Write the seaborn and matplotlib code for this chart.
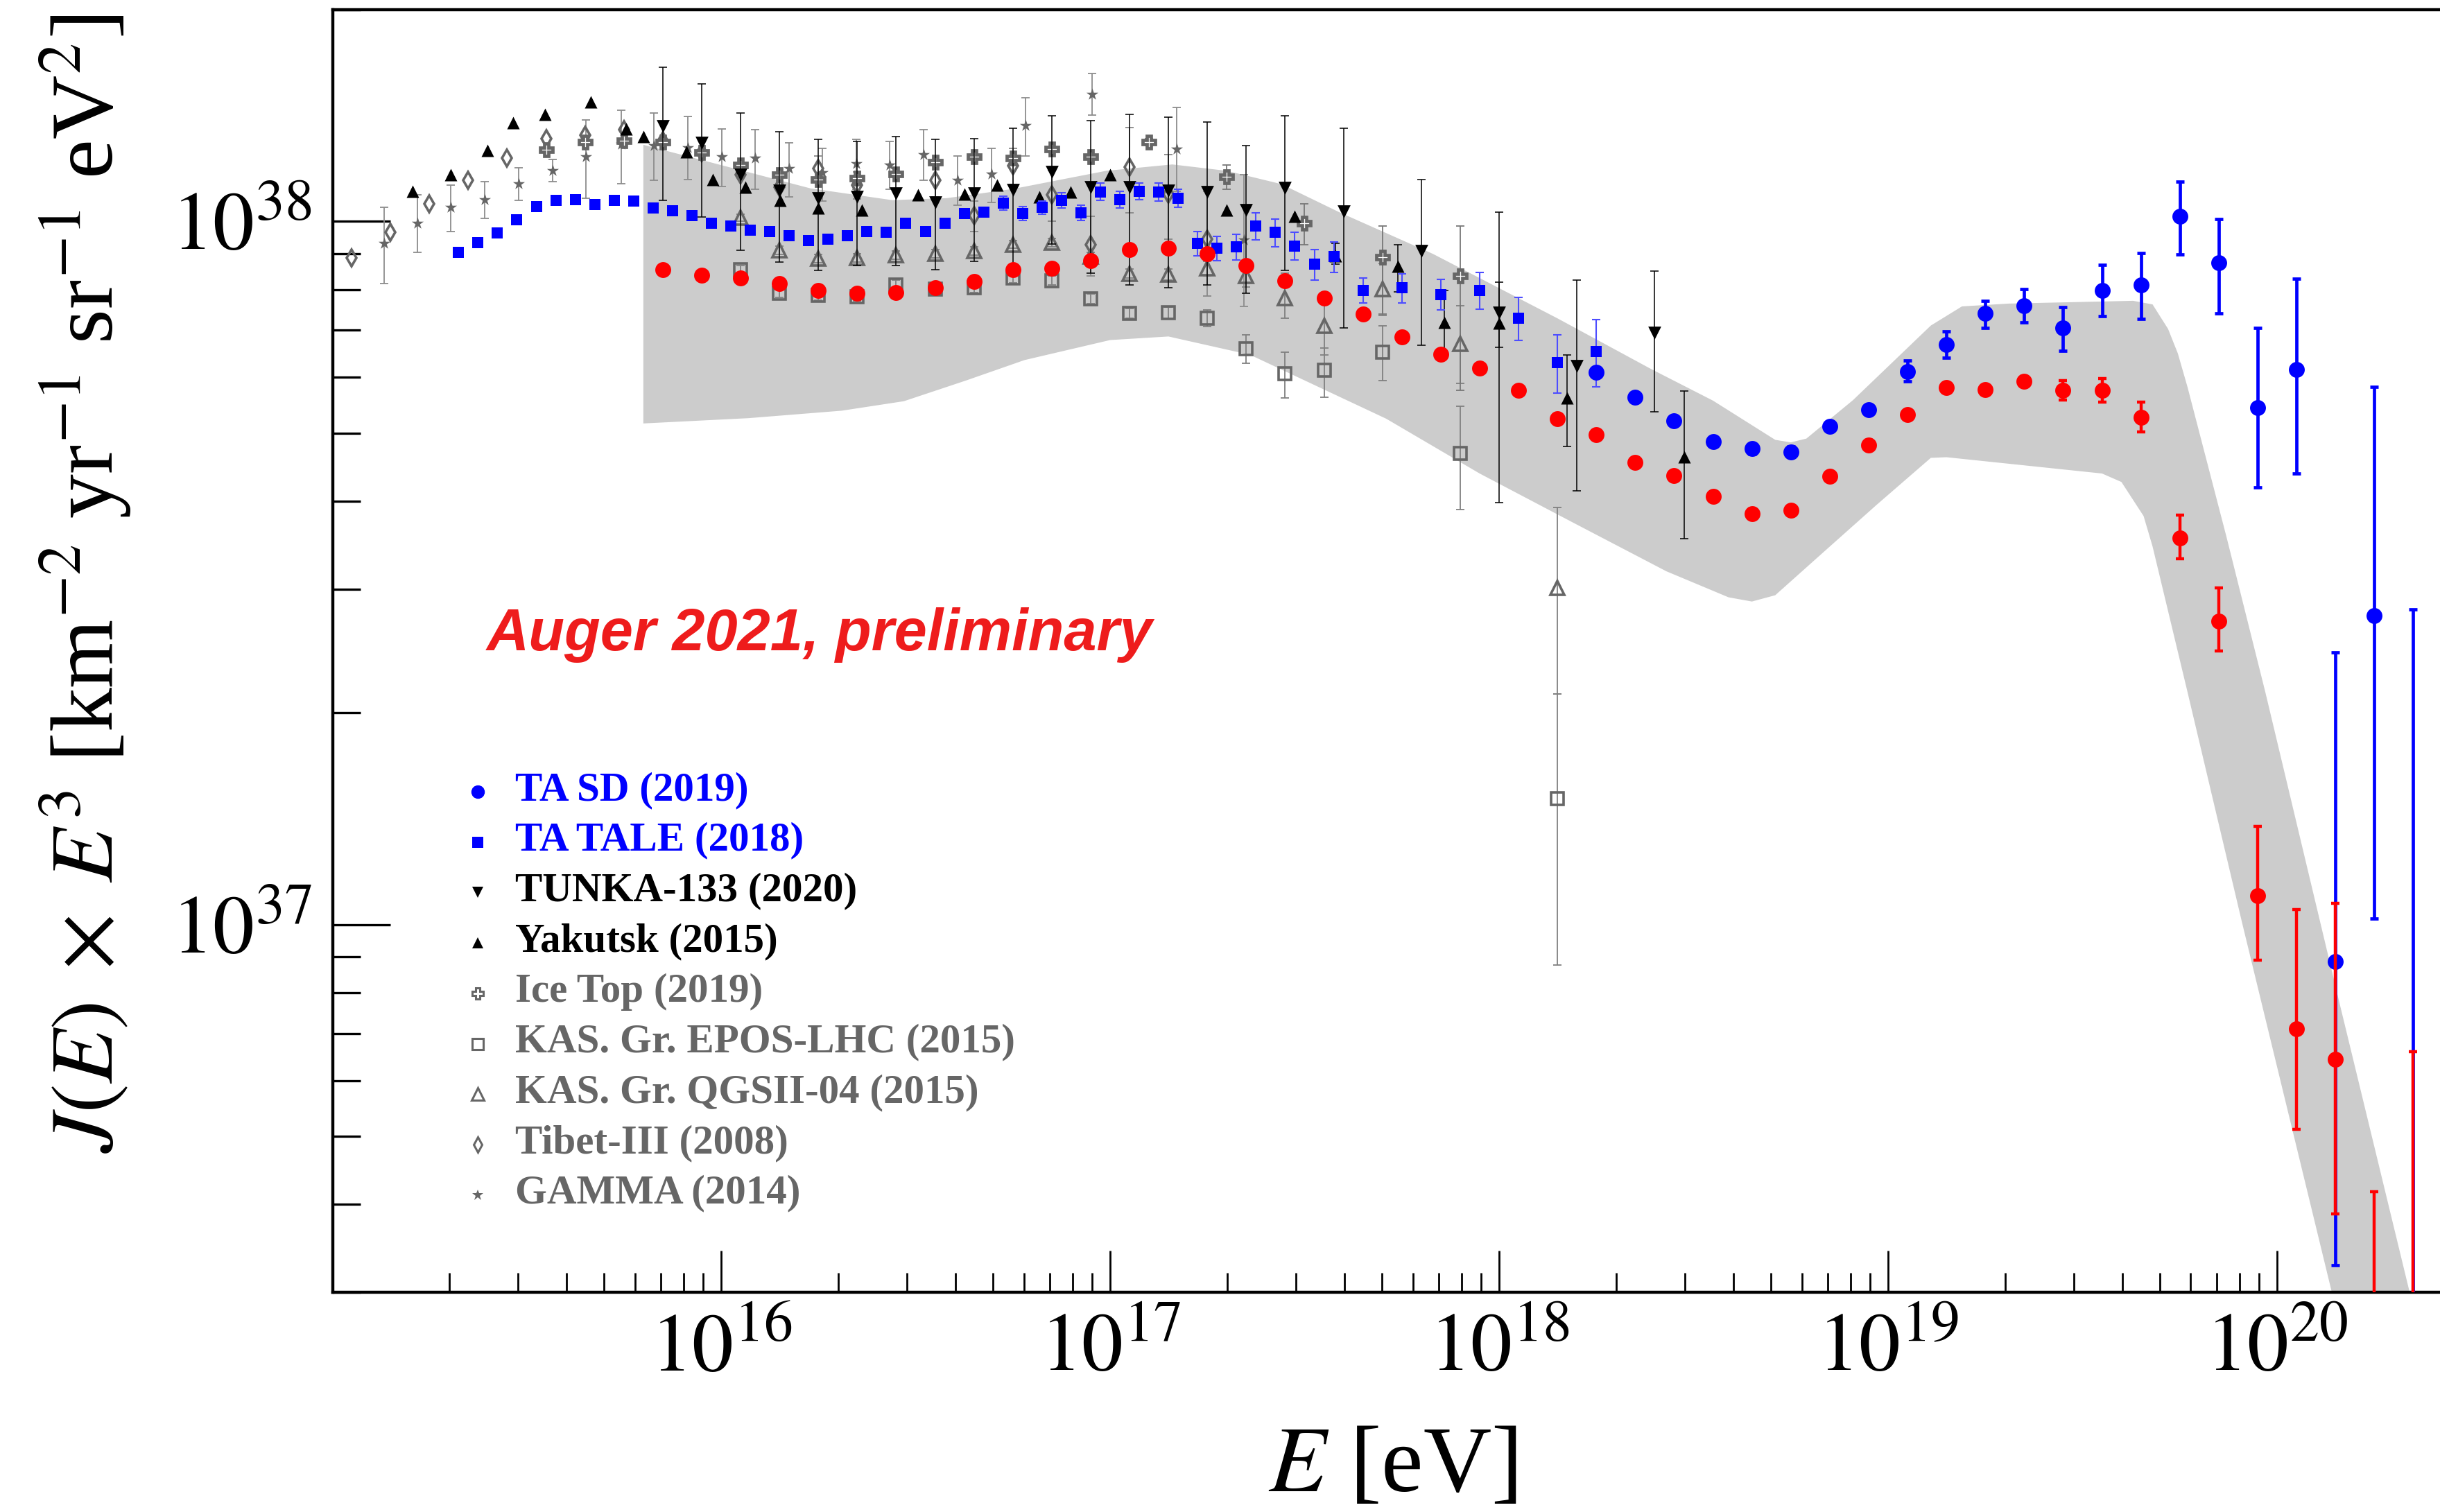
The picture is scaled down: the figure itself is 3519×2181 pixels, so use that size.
import numpy as np
import matplotlib
matplotlib.use("Agg")
import matplotlib.pyplot as plt
import seaborn as sns
from matplotlib.lines import Line2D
from matplotlib.ticker import LogLocator, FuncFormatter, NullFormatter

# energies as log10(E/eV), fluxes J(E)*E^3 in units of 1e37 km^-2 yr^-1 sr^-1 eV^2
auger_lge = [15.85, 15.95, 16.05, 16.15, 16.25, 16.35, 16.45, 16.55, 16.65, 16.75, 16.85, 16.95,
             17.05, 17.15, 17.25, 17.35, 17.45, 17.55, 17.65, 17.75, 17.85, 17.95, 18.05, 18.15,
             18.25, 18.35, 18.45, 18.55, 18.65, 18.75, 18.85, 18.95, 19.05, 19.15, 19.25, 19.35,
             19.45, 19.55, 19.65, 19.75, 19.85, 19.95, 20.05, 20.15, 20.25, 20.35]
auger_flux = [8.53, 8.39, 8.30, 8.15, 7.98, 7.91, 7.93, 8.05, 8.22, 8.53, 8.57, 8.79,
              9.12, 9.16, 8.99, 8.65, 8.24, 7.78, 7.38, 6.85, 6.47, 6.18, 5.75, 5.24,
              4.97, 4.54, 4.35, 4.06, 3.84, 3.88, 4.34, 4.81, 5.31, 5.81, 5.77, 5.93,
              5.75, 5.75, 5.26, 3.55, 2.70, 1.10, 0.711, 0.643, 0.22, 0.25]
auger_dn = [0, 0, 0, 0, 0, 0, 0, 0, 0, 0, 0, 0, 0, 0, 0, 0, 0, 0, 0, 0, 0, 0,
            0.07, 0.06, 0.06, 0.06, 0.06, 0.06, 0.06, 0.06, 0.06, 0.07, 0.07, 0.08, 0.08, 0.09,
            0.18, 0.22, 0.24, 0.24, 0.25, 0.21, 0.20, 0.255, 0.20, 0.23]
auger_up = [0, 0, 0, 0, 0, 0, 0, 0, 0, 0, 0, 0, 0, 0, 0, 0, 0, 0, 0, 0, 0, 0,
            0.07, 0.06, 0.06, 0.06, 0.06, 0.06, 0.06, 0.06, 0.06, 0.07, 0.07, 0.08, 0.08, 0.09,
            0.19, 0.23, 0.27, 0.27, 0.31, 0.28, 0.34, 0.43, 0.197, 0.41]

tasd_lge = [18.25, 18.35, 18.45, 18.55, 18.65, 18.75, 18.85, 18.95, 19.05, 19.15, 19.25,
            19.35, 19.45, 19.55, 19.65, 19.75, 19.85, 19.95, 20.05, 20.15, 20.25, 20.35]
tasd_flux = [6.10, 5.62, 5.20, 4.86, 4.75, 4.70, 5.11, 5.40, 6.12, 6.68, 7.40,
             7.59, 7.05, 7.98, 8.13, 10.16, 8.73, 5.43, 6.15, 0.885, 2.75, 0.20]
tasd_dn = [0.10, 0.08, 0.08, 0.08, 0.08, 0.08, 0.08, 0.08, 0.20, 0.28, 0.34,
           0.41, 0.50, 0.65, 0.87, 1.18, 1.33, 1.24, 1.77, 0.557, 1.73, 0.10]
tasd_up = [0.10, 0.08, 0.08, 0.08, 0.08, 0.08, 0.08, 0.08, 0.22, 0.29, 0.31,
           0.43, 0.50, 0.69, 0.89, 1.22, 1.34, 1.63, 2.13, 1.555, 3.07, 2.61]

tale_lge = [15.325, 15.375, 15.425, 15.475, 15.525, 15.575, 15.625, 15.675, 15.725, 15.775,
            15.825, 15.875, 15.925, 15.975, 16.025, 16.075, 16.125, 16.175, 16.225, 16.275,
            16.325, 16.375, 16.425, 16.475, 16.525, 16.575, 16.625, 16.675, 16.725, 16.775,
            16.825, 16.875, 16.925, 16.975, 17.025, 17.075, 17.125, 17.175, 17.225, 17.275,
            17.325, 17.375, 17.425, 17.475, 17.525, 17.575, 17.65, 17.75, 17.85, 17.95,
            18.05, 18.15, 18.25]
tale_flux = [9.04, 9.33, 9.62, 10.05, 10.50, 10.72, 10.74, 10.57, 10.72, 10.69,
             10.45, 10.35, 10.19, 9.95, 9.86, 9.71, 9.68, 9.55, 9.40, 9.44,
             9.55, 9.68, 9.66, 9.93, 9.68, 9.93, 10.26, 10.30, 10.62, 10.26,
             10.47, 10.72, 10.28, 11.02, 10.74, 11.04, 11.02, 10.79, 9.31, 9.16,
             9.20, 9.84, 9.64, 9.23, 8.69, 8.91, 7.98, 8.04, 7.87, 7.98,
             7.28, 6.30, 6.53]
tale_rel = [0, 0, 0, 0, 0, 0, 0, 0, 0, 0, 0, 0, 0, 0, 0, 0, 0, 0, 0, 0, 0, 0, 0, 0, 0, 0, 0, 0,
            0.022, 0.022, 0.022, 0.025, 0.025, 0.028, 0.028, 0.028, 0.03, 0.03, 0.04, 0.04,
            0.042, 0.044, 0.046, 0.046, 0.05, 0.05, 0.04, 0.047, 0.05, 0.06, 0.07, 0.095, 0.11]

tunka_lge = [15.85, 15.95, 16.05, 16.15, 16.25, 16.35, 16.45, 16.55, 16.65, 16.75, 16.85,
             16.95, 17.05, 17.15, 17.25, 17.35, 17.45, 17.6, 17.8, 18.0, 18.2, 18.4]
tunka_flux = [13.65, 12.94, 11.64, 11.07, 10.79, 10.84, 10.96, 10.64, 10.96, 11.09, 11.75,
              11.19, 11.19, 11.07, 11.02, 10.38, 11.17, 10.33, 9.08, 7.41, 6.22, 6.95]
tunka_lo = [10.72, 10.14, 9.10, 8.75, 8.51, 8.65, 8.65, 8.53, 8.77, 8.47, 9.29,
            8.45, 8.13, 8.05, 8.13, 7.91, 8.51, 7.05, 6.67, 6.62, 4.14, 5.36]
tunka_hi = [16.56, 15.67, 14.26, 13.40, 13.09, 13.00, 13.21, 13.09, 13.12, 13.58, 14.13,
            13.90, 14.19, 14.06, 13.84, 12.82, 14.13, 13.58, 11.46, 10.30, 8.26, 8.49]

yak_lge = [15.207, 15.304, 15.400, 15.465, 15.547, 15.665, 15.756, 15.801, 15.911, 15.979,
           16.062, 16.151, 16.25, 16.361, 16.506, 16.626, 16.709, 16.819, 16.899, 17.000,
           17.30, 17.475, 17.58, 17.74, 17.86, 18.0, 18.175, 18.476]
yak_flux = [11.04, 11.64, 12.62, 13.80, 14.19, 14.79, 13.52, 13.21, 12.56, 11.46,
            11.19, 10.72, 10.45, 10.38, 10.91, 10.94, 11.27, 10.84, 11.02, 11.64,
            10.38, 10.16, 8.93, 8.63, 7.18, 7.16, 5.61, 4.63]
yak_dn = [0, 0, 0, 0, 0, 0, 0, 0, 0, 0, 0, 0, 0, 0, 0, 0, 0, 0, 0, 0, 0, 0,
          0.24, 0.69, 0.75, 3.18, 0.83, 1.09]
yak_up = [0, 0, 0, 0, 0, 0, 0, 0, 0, 0, 0, 0, 0, 0, 0, 0, 0, 0, 0, 0, 0, 0,
          0.38, 0.64, 0.80, 1.04, 0.85, 1.11]

icetop_lge = [15.55, 15.65, 15.75, 15.85, 15.95, 16.05, 16.15, 16.25, 16.35, 16.45,
              16.55, 16.65, 16.75, 16.85, 16.95, 17.1, 17.3, 17.5, 17.7, 17.9]
icetop_flux = [12.65, 12.97, 13.03, 12.97, 12.53, 12.02, 11.64, 11.48, 11.51, 11.69,
               12.13, 12.36, 12.30, 12.68, 12.36, 12.97, 11.56, 9.93, 8.89, 8.36]
icetop_dn = [0, 0, 0, 0, 0, 0, 0, 0, 0, 0, 0, 0, 0, 0, 0, 0.15, 0.44, 0.66, 1.51, 2.61]
icetop_up = [0, 0, 0, 0, 0, 0, 0, 0, 0, 0, 0, 0, 0, 0, 0, 0.15, 0.46, 0.66, 0.97, 1.50]

kas_lge = [16.05, 16.15, 16.25, 16.35, 16.45, 16.55, 16.65, 16.75, 16.85, 16.95,
           17.05, 17.15, 17.25, 17.35, 17.45, 17.55, 17.70, 17.90, 18.15]
kas_epos_flux = [8.53, 7.91, 7.85, 7.82, 8.13, 8.02, 8.05, 8.30, 8.24, 7.76,
                 7.40, 7.41, 7.28, 6.59, 6.07, 6.14, 6.52, 4.68, 1.51]
kas_epos_dn = [0.12, 0.12, 0.12, 0.12, 0.12, 0.12, 0.12, 0.12, 0.12, 0.12,
               0.12, 0.15, 0.20, 0.30, 0.46, 0.52, 0.58, 0.79, 0.635]
kas_epos_up = [0.12, 0.12, 0.12, 0.12, 0.12, 0.12, 0.12, 0.12, 0.12, 0.12,
               0.12, 0.15, 0.20, 0.30, 0.45, 0.47, 0.58, 0.78, 0.62]
kas_qgs_flux = [10.12, 9.10, 8.85, 8.87, 8.95, 8.99, 9.08, 9.27, 9.33, 8.91,
                8.43, 8.41, 8.57, 8.36, 7.78, 7.10, 8.02, 6.70, 3.01]
kas_qgs_dn = [0.12, 0.12, 0.12, 0.12, 0.12, 0.12, 0.12, 0.12, 0.12, 0.12,
              0.12, 0.15, 0.20, 0.30, 0.49, 0.64, 0.67, 0.81, 0.88]
kas_qgs_up = [0.12, 0.12, 0.12, 0.12, 0.12, 0.12, 0.12, 0.12, 0.12, 0.12,
              0.12, 0.15, 0.20, 0.30, 0.67, 0.66, 0.69, 0.89, 0.91]

tibet_lge = [15.05, 15.15, 15.25, 15.35, 15.45, 15.55, 15.65, 15.75, 15.85, 15.95, 16.05,
             16.15, 16.25, 16.35, 16.55, 16.65, 16.75, 16.85, 16.95, 17.05, 17.15, 17.25]
tibet_flux = [8.87, 9.66, 10.59, 11.43, 12.30, 13.12, 13.27, 13.49, 13.03, 12.53, 11.64,
              11.19, 11.89, 11.27, 11.43, 10.18, 11.99, 10.91, 9.27, 11.94, 10.94, 9.44]
tibet_err = [0, 0, 0, 0, 0, 0, 0, 0, 0, 0, 0, 0,
             0.5, 0.5, 0.6, 0.5, 0.7, 0.9, 0.9, 1.65, 1.5, 1.6]

gamma_lge = [15.133, 15.220, 15.305, 15.393, 15.479, 15.567, 15.652, 15.744, 15.827, 15.915,
             16.001, 16.088, 16.175, 16.26, 16.347, 16.433, 16.521, 16.607, 16.695, 16.782,
             16.954, 17.171, 17.344]
gamma_flux = [9.31, 9.95, 10.47, 10.74, 11.32, 11.80, 12.36, 12.88, 12.82, 12.74,
              12.36, 12.30, 11.89, 11.72, 12.08, 12.02, 12.45, 11.43, 11.67, 13.68,
              15.17, 12.68, 9.42]
gamma_lo = [8.15, 9.04, 9.68, 10.09, 10.72, 11.38, 10.79, 11.30, 11.43, 11.48,
            11.22, 11.12, 10.84, 10.69, 11.12, 11.12, 11.43, 10.54, 10.64, 12.39,
            14.16, 11.04, 7.57]
gamma_hi = [10.47, 10.91, 11.27, 11.40, 11.91, 12.25, 13.93, 14.39, 14.26, 14.09,
            13.52, 13.49, 12.94, 12.71, 13.09, 13.00, 13.49, 12.39, 12.71, 15.00,
            16.22, 14.52, 11.64]

# Auger systematic band (upper and lower edge)
band_up_lge = [15.80, 16.23, 16.44, 16.58, 16.75, 16.99, 17.16, 17.30, 17.44, 17.59, 17.83,
               18.15, 18.39, 18.55, 18.71, 18.75, 18.79, 18.91, 19.11, 19.19, 19.31, 19.63,
               19.68, 19.72, 19.745, 19.77, 19.87, 19.97, 20.16, 20.40]
band_up = [12.85, 11.14, 10.72, 10.79, 11.12, 11.80, 12.05, 11.80, 11.30, 10.30, 8.99,
           7.28, 6.17, 5.56, 4.89, 4.85, 4.91, 5.57, 7.11, 7.57, 7.64, 7.71,
           7.62, 7.03, 6.49, 5.81, 3.56, 2.14, 0.776, 0.22]
band_lo_lge = [15.80, 16.07, 16.31, 16.47, 16.63, 16.78, 17.00, 17.15, 17.36, 17.71, 17.95,
               18.19, 18.43, 18.59, 18.65, 18.71, 18.83, 18.97, 19.11, 19.15, 19.55, 19.60,
               19.657, 19.68, 19.77, 19.91, 20.20]
band_lo = [5.16, 5.25, 5.38, 5.55, 5.94, 6.35, 6.78, 6.86, 6.46, 5.24, 4.38,
           3.73, 3.18, 2.92, 2.88, 2.94, 3.37, 3.95, 4.61, 4.62, 4.38, 4.26,
           3.81, 3.45, 2.14, 1.007, 0.22]

legend_labels = ["TA SD (2019)", "TA TALE (2018)", "TUNKA-133 (2020)", "Yakutsk (2015)",
                 "Ice Top (2019)", "KAS. Gr. EPOS-LHC (2015)", "KAS. Gr. QGSII-04 (2015)",
                 "Tibet-III (2008)", "GAMMA (2014)"]

UNIT = 1e37
GREY = "#666666"
BLUE = "#0000ff"
RED = "#ff0000"

sns.set_theme(style="ticks")
plt.rcParams["font.family"] = ["Liberation Serif", "DejaVu Serif"]
plt.rcParams["mathtext.fontset"] = "stix"
plt.rcParams["axes.edgecolor"] = "black"
plt.rcParams["xtick.color"] = "black"
plt.rcParams["ytick.color"] = "black"
plt.rcParams["text.color"] = "black"
plt.rcParams["axes.labelcolor"] = "black"

W, H = 3519, 2181
fig = plt.figure(figsize=(W / 100, H / 100), dpi=100)
ax = fig.add_axes([480 / W, 1 - 1864 / H, (W - 480) / W, (1864 - 14) / H])
ax.set_xscale("log")
ax.set_yscale("log")


def to_xy(lge, flux):
    return 10 ** np.asarray(lge, float), np.asarray(flux, float) * UNIT


def err(lge, flux, dn, up, color, lw, cap, z):
    x, y = to_xy(lge, flux)
    dn = np.asarray(dn, float) * UNIT
    up = np.asarray(up, float) * UNIT
    m = (dn > 0) | (up > 0)
    ax.errorbar(x[m], y[m], yerr=[dn[m], up[m]], fmt="none", ecolor=color,
                elinewidth=lw, capsize=cap, capthick=lw, zorder=z)


def filled(lge, flux, marker, ms, color, z):
    x, y = to_xy(lge, flux)
    sns.scatterplot(x=x, y=y, ax=ax, marker=marker, s=ms ** 2, color=color,
                    linewidth=0, zorder=z, legend=False)


def hollow(lge, flux, marker, ms, color, mew, z, fc="none"):
    x, y = to_xy(lge, flux)
    ax.plot(x, y, ls="none", marker=marker, ms=ms, mfc=fc, mec=color, mew=mew, zorder=z)


# grey band
bx = np.concatenate([10 ** np.asarray(band_up_lge), 10 ** np.asarray(band_lo_lge)[::-1]])
by = np.concatenate([np.asarray(band_up), np.asarray(band_lo)[::-1]]) * UNIT
ax.fill(bx, by, color="#cccccc", lw=0, zorder=1)

# grey data sets
err(tibet_lge, tibet_flux, tibet_err, tibet_err, "#888888", 1.3, 4, 2)
hollow(tibet_lge, tibet_flux, "d", 12.5, GREY, 2.6, 3)

g_dn = np.asarray(gamma_flux) - np.asarray(gamma_lo)
g_up = np.asarray(gamma_hi) - np.asarray(gamma_flux)
err(gamma_lge, gamma_flux, g_dn, g_up, "#8c8c8c", 1.3, 4, 2)
filled(gamma_lge, gamma_flux, "*", 13, GREY, 3)

err(kas_lge, kas_qgs_flux, kas_qgs_dn, kas_qgs_up, "#808080", 1.3, 4, 2)
hollow(kas_lge, kas_qgs_flux, "^", 15, GREY, 2.6, 3)
err(kas_lge, kas_epos_flux, kas_epos_dn, kas_epos_up, "#808080", 1.3, 4, 2)
hollow(kas_lge, kas_epos_flux, "s", 13.5, GREY, 2.6, 3)

err(icetop_lge, icetop_flux, icetop_dn, icetop_up, "#777777", 1.3, 4, 2)
hollow(icetop_lge, icetop_flux, "P", 12.5, GREY, 3.4, 3, fc="white")

# black data sets
err(yak_lge, yak_flux, yak_dn, yak_up, "black", 1.1, 4.5, 4)
filled(yak_lge, yak_flux, "^", 13, "black", 5)

t_dn = np.asarray(tunka_flux) - np.asarray(tunka_lo)
t_up = np.asarray(tunka_hi) - np.asarray(tunka_flux)
err(tunka_lge, tunka_flux, t_dn, t_up, "black", 1.1, 4.5, 4)
filled(tunka_lge, tunka_flux, "v", 13.5, "black", 5)

# TA
tale_e = np.asarray(tale_flux) * np.asarray(tale_rel)
err(tale_lge, tale_flux, tale_e, tale_e, "#4d4dff", 1.5, 4, 6)
filled(tale_lge, tale_flux, "s", 11.5, BLUE, 7)

err(tasd_lge, tasd_flux, tasd_dn, tasd_up, BLUE, 3.4, 4.5, 8)
filled(tasd_lge, tasd_flux, "o", 16.5, BLUE, 9)

# Auger
err(auger_lge, auger_flux, auger_dn, auger_up, RED, 3.2, 4.5, 10)
filled(auger_lge, auger_flux, "o", 16.5, RED, 11)

# axes
ax.set_xlim(1.004e15, 10 ** 20.419)
ax.set_ylim(3e36, 2e38)
for axis in (ax.xaxis, ax.yaxis):
    axis.set_major_locator(LogLocator(base=10, numticks=30))
    axis.set_minor_locator(LogLocator(base=10, subs=np.arange(2, 10), numticks=30))
    axis.set_major_formatter(FuncFormatter(lambda v, p: r"$10^{%d}$" % round(np.log10(v))))
    axis.set_minor_formatter(NullFormatter())

ax.tick_params(axis="x", which="major", direction="in", length=43, width=2, labelsize=86, pad=22)
ax.tick_params(axis="x", which="minor", direction="in", length=20, width=2)
ax.tick_params(axis="y", which="major", direction="in", length=60, width=2.4, labelsize=86, pad=22)
ax.tick_params(axis="y", which="minor", direction="in", length=29, width=2.4)
ax.tick_params(top=False, right=False, which="both")

for side in ("left", "bottom", "top"):
    ax.spines[side].set_linewidth(3.2)
    ax.spines[side].set_color("black")
ax.spines["right"].set_visible(False)

ax.set_ylabel(r"$J(E)\;\times\;E^{3}$ [km$^{-2}$ yr$^{-1}$ sr$^{-1}$ eV$^{2}$]", fontsize=92)
ax.yaxis.set_label_coords(-0.0948, 0.5527)
ax.set_xlabel(r"$E$ [eV]", fontsize=98)
ax.xaxis.set_label_coords(0.503, -0.104)

ax.text(0.073, 0.5005, "Auger 2021, preliminary", transform=ax.transAxes, color="#ee1c1c",
        fontsize=61, fontweight="bold", fontstyle="italic", family="Liberation Sans",
        va="baseline", ha="left", zorder=12)

# legend (drawn row by row)
leg_colors = [BLUE, BLUE, "black", "black", GREY, GREY, GREY, GREY, GREY]
leg_markers = [
    dict(marker="o", ms=14, mfc=BLUE, mec=BLUE, mew=0),
    dict(marker="s", ms=11, mfc=BLUE, mec=BLUE, mew=0),
    dict(marker="v", ms=11.5, mfc="black", mec="black", mew=0),
    dict(marker="^", ms=11.5, mfc="black", mec="black", mew=0),
    dict(marker="P", ms=11, mfc="white", mec=GREY, mew=2.2),
    dict(marker="s", ms=11, mfc="none", mec=GREY, mew=2.2),
    dict(marker="^", ms=13, mfc="none", mec=GREY, mew=2.2),
    dict(marker="d", ms=11, mfc="none", mec=GREY, mew=2.2),
    dict(marker="*", ms=12, mfc=GREY, mec=GREY, mew=0),
]
for i, (lab, col, mk) in enumerate(zip(legend_labels, leg_colors, leg_markers)):
    yb = 1154 + i * 72.7
    fig.text(743 / W, 1 - yb / H, lab, color=col, fontsize=42.5, fontweight="bold",
             family="Liberation Serif", ha="left", va="baseline")
    fig.add_artist(Line2D([689 / W], [1 - (yb - 12) / H], transform=fig.transFigure,
                          ls="none", **mk))

fig.savefig("out.png", dpi=100)
